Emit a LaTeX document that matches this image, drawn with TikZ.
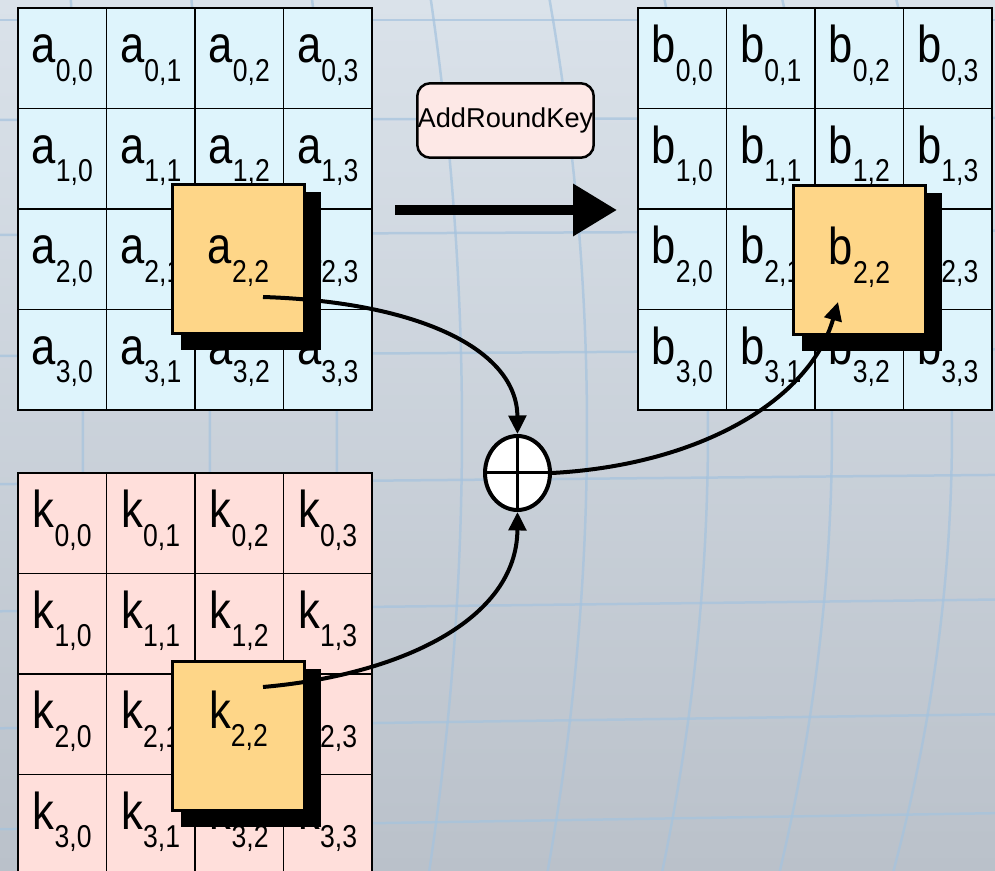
\documentclass[tikz,border=0pt]{standalone}
\usepackage{fontspec}
\setmainfont{Liberation Sans}
\newfontfamily\cellfont[FakeStretch=0.84]{Liberation Sans}
\usetikzlibrary{arrows.meta,shapes.geometric,shadows}
\definecolor{cellblue}{RGB}{222,244,252}
\definecolor{cellpink}{RGB}{255,223,219}
\definecolor{hlorange}{RGB}{254,214,136}
\definecolor{labelpink}{RGB}{253,232,230}
\definecolor{bgtop}{RGB}{218,226,234}
\definecolor{bgmid}{RGB}{204,209,216}
\definecolor{bgbot}{RGB}{186,193,202}
\definecolor{gridblue}{RGB}{165,195,222}
\newcommand{\elem}[2]{#1\raisebox{-10.5pt}{\fontsize{18}{18}\selectfont #2}}

\begin{document}
\begin{tikzpicture}[x=0.02cm, y=-0.02cm,
  cell/.style={draw, line width=0.03cm, minimum width=1.77cm, minimum height=2.01cm, inner sep=0pt,
    text height=0.69cm, text depth=0.5cm, font=\fontsize{29.5}{30}\cellfont},
  hl/.style={cell, fill=hlorange, line width=0.06cm, minimum width=2.64cm, minimum height=2.98cm,
    general shadow={fill=black, shadow xshift=0.23cm, shadow yshift=-0.23cm, shadow scale=1.06}},
  xorc/.style={ellipse, draw, fill=white, line width=0.08cm, minimum width=1.3cm, minimum height=1.48cm, inner sep=0pt},
  link/.style={line width=0.08cm, -{Triangle[length=0.37cm,width=0.35cm]}},
  bgline/.style={line width=0.05cm, draw=gridblue, opacity=0.7},
  keybox/.style={draw, fill=labelpink, rounded corners=0.26cm, line width=0.05cm, minimum width=3.53cm,
    minimum height=1.49cm, inner sep=0pt, font=\fontsize{15.5}{16}\selectfont}
]
% paper background
\useasboundingbox (0,0) rectangle (995,871);
\clip (0,0) rectangle (995,871);
\shade[top color=bgtop, middle color=bgmid, bottom color=bgbot] (0,0) rectangle (995,871);
\foreach \h in {20,119,233,353,480,606,722,822}
  \draw[bgline] (0,{\h+0.009*(\h-20)}) -- (995,{\h-0.011*(\h-20)});
\foreach \m in {83,210,337,462,587,708,832,952}
  \draw[bgline] plot[domain=0:871, samples=30, variable=\t, smooth] ({\m-(0.05*\m+8)*((\t-430)/430)^2}, \t);

% state, result and round key
\foreach \r in {0,...,3}
  \foreach \c in {0,...,3} {
    \node[cell, fill=cellblue] (a-\r-\c) at ({62.25+88.5*\c}, {58.25+100.5*\r}) {\elem{a}{\r,\c}};
    \node[cell, fill=cellblue] (b-\r-\c) at ({682.25+88.5*\c}, {58.25+100.5*\r}) {\elem{b}{\r,\c}};
    \node[cell, fill=cellpink] (k-\r-\c) at ({62.25+88.5*\c}, {523.25+100.5*\r}) {\elem{k}{\r,\c}};
  }

% highlighted bytes
\node[hl] (ha) at (238.5,259) {\elem{a}{2,2}};
\node[hl] (hb) at (859.5,260) {\elem{b}{2,2}};
\node[hl, text depth=1.01cm] (hk) at (238.5,736) {\elem{k}{2,2}};

% xor
\node[xorc] (xor) at (517.5,473) {};
\draw[line width=0.06cm] (xor.north) -- (xor.south) (xor.west) -- (xor.east);

\coordinate (srcA) at (263,297);
\coordinate (srcK) at (263,687);
\coordinate (dstB) at (838,302);
\draw[link] (srcA) .. controls (420,302) and (517,350) .. (xor.north);
\draw[link] (srcK) .. controls (400,675) and (517,620) .. (xor.south);
\draw[link] (xor.east) .. controls (700,465) and (810,400) .. (dstB);

% operation
\node[keybox] (op) at (505.5,120.5) {AddRoundKey};
\coordinate (arrL) at (395,210);
\coordinate (arrR) at (617,210);
\draw[line width=0.2cm, -{Triangle[length=0.88cm,width=1cm]}] (arrL) -- (arrR);
\end{tikzpicture}
\end{document}
